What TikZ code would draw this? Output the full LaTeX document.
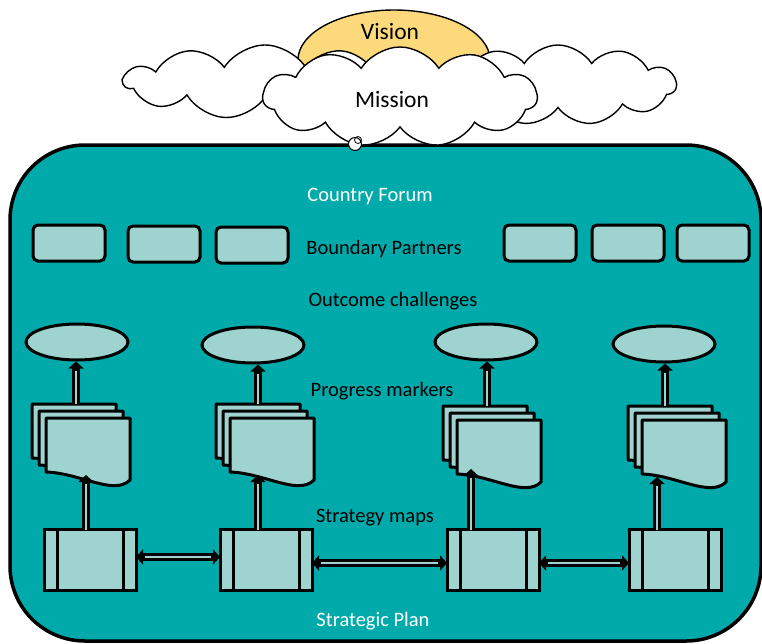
\documentclass[tikz,border=0pt]{standalone}
\usepackage{fontspec}
\setmainfont{Carlito}
\usetikzlibrary{shapes.geometric,shapes.symbols,arrows.meta}

\definecolor{forum}{RGB}{0,170,170}
\definecolor{boxfill}{RGB}{158,211,207}
\definecolor{sunfill}{RGB}{252,217,122}

% one sheet of a progress marker stack, top left corner at #1,#2
\newcommand\marksheet[2]{%
  \filldraw[sheet] (#1,#2) -- (#1+84,#2) -- (#1+84,#2+62)
    .. controls (#1+68,#2+78) and (#1+34,#2+55) .. (#1,#2+54) -- cycle;}

\begin{document}
\begin{tikzpicture}[x=1pt, y=-1pt,
    lbl/.style={font=\fontsize{20.5}{24}\selectfont},
    biglbl/.style={font=\fontsize{23.5}{27}\selectfont},
    partner/.style={draw, line width=3pt, fill=boxfill, rounded corners=5pt, minimum width=72pt, minimum height=36pt},
    challenge/.style={ellipse, draw, line width=3pt, fill=boxfill, minimum width=102pt, minimum height=36pt},
    mapbox/.style={draw, line width=3pt, fill=boxfill, outer sep=0pt, minimum width=92pt, minimum height=61pt},
    sheet/.style={draw=black, line width=3pt, fill=boxfill, line join=round},
    link/.style={draw=black, line width=7.5pt, -{Triangle[length=7pt, width=15pt]},
      postaction={draw=boxfill, line width=2.5pt, -, shorten >=9pt}},
    twoway/.style={draw=black, line width=7.5pt, {Triangle[length=7pt, width=15pt]}-{Triangle[length=7pt, width=15pt]},
      postaction={draw=boxfill, line width=2.5pt, -, shorten >=9pt, shorten <=9pt}},
    puff/.style={cloud, cloud puffs=11, cloud puff arc=115, draw, line width=1.4pt, fill=white}]
  \useasboundingbox (0,0) rectangle (762,643);

  % the forum
  \filldraw[fill=forum, line width=3.5pt, rounded corners=75pt] (10,145) rectangle (761,641);

  % vision behind the clouds
  \node[ellipse, draw, line width=1.4pt, fill=sunfill, minimum width=192pt, minimum height=100pt] (vision) at (394,60) {};
  \node[puff, minimum width=282pt, minimum height=74pt] (cloudL) at (265,82) {};
  \node[puff, minimum width=236pt, minimum height=80pt] (cloudR) at (558,85) {};
  \node[puff, aspect=2.6, minimum width=274pt, minimum height=100pt] (mission) at (400,97) {};
  \node[biglbl] (missiontext) at (392,99) {Mission};
  \node[biglbl] (visiontext) at (390,31) {Vision};
  \node[circle, draw, line width=1pt, fill=white, minimum size=13pt, inner sep=0pt] (knot) at (355,144) {};
  \draw[line width=0.8pt] (358,140) circle (3.5);

  % labels
  \node[lbl, white] (forumtext) at (370,196) {Country Forum};
  \node[lbl] (bptext) at (384,249) {Boundary Partners};
  \node[lbl] (octext) at (393,301) {Outcome challenges};
  \node[lbl] (pmtext) at (382,391) {Progress markers};
  \node[lbl] (smtext) at (375,518) {Strategy maps};
  \node[lbl, white] (plantext) at (373,621) {Strategic Plan};

  % boundary partners
  \foreach \i/\x/\y in {1/69/243, 2/164/244, 3/252/245, 4/540/243, 5/628/243, 6/713/243}
    \node[partner] (bp\i) at (\x,\y) {};

  % outcome challenges
  \node[challenge] (oc1) at (77,342) {};
  \node[challenge] (oc2) at (253,345) {};
  \node[challenge] (oc3) at (486,342) {};
  \node[challenge] (oc4) at (664,344) {};

  % strategy maps
  \node[mapbox] (sm1) at (90,560) {};
  \node[mapbox] (sm2) at (266,560) {};
  \node[mapbox] (sm3) at (493,560) {};
  \node[mapbox] (sm4) at (675,560) {};
  \foreach \n in {1,...,4} {
    \draw[line width=3pt] ([xshift=13pt]sm\n.north west) -- ([xshift=13pt]sm\n.south west);
    \draw[line width=3pt] ([xshift=-13pt]sm\n.north east) -- ([xshift=-13pt]sm\n.south east);
  }

  % progress marker stacks and their links
  \foreach \i/\x/\y/\ux/\dx/\dy in {1/32/404/76/86/475, 2/216/404/258/258/475, 3/443/406/487/471/469, 4/628/406/665/657/477} {
    \marksheet{\x}{\y}
    \marksheet{\x+7}{\y+7}
    \marksheet{\x+14}{\y+14}
    \coordinate (pm\i-top) at (\ux,\y);
    \coordinate (pm\i-bot) at (\dx,\dy);
    \draw[link] (sm\i.north -| pm\i-bot) -- (pm\i-bot);
    \draw[link] (pm\i-top) -- (pm\i-top |- oc\i.south);
  }

  \draw[twoway] ([yshift=3pt]sm1.east) -- ([yshift=3pt]sm2.west);
  \draw[twoway] ([yshift=-3pt]sm2.east) -- ([yshift=-3pt]sm3.west);
  \draw[twoway] ([yshift=-3pt]sm3.east) -- ([yshift=-3pt]sm4.west);
\end{tikzpicture}
\end{document}
